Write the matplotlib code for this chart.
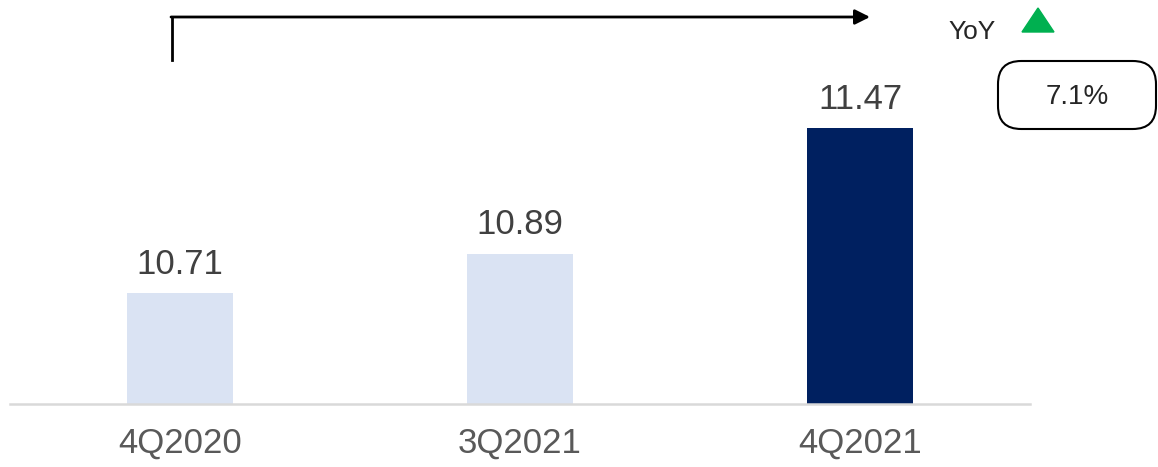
import matplotlib
matplotlib.use("Agg")
import matplotlib.pyplot as plt
from matplotlib.patches import FancyBboxPatch, Polygon

quarters = ["4Q2020", "3Q2021", "4Q2021"]
values = [10.71, 10.89, 11.47]
bar_colors = ["#dae3f3", "#dae3f3", "#002060"]
yoy_label = "7.1%"

W, H = 1158, 467
fig = plt.figure(figsize=(W / 100, H / 100), dpi=100)
ax = fig.add_axes([10 / W, (H - 404) / H, 1020 / W, 404 / H])

x = range(len(quarters))
ax.bar(x, values, width=0.312, color=bar_colors, zorder=2)
ax.set_xlim(-0.5, 2.5)
ax.set_ylim(10.199, 12.06)

for xi, v in zip(x, values):
    ax.annotate(f"{v:.2f}", (xi, v), xytext=(0, 9), textcoords="offset points",
                ha="center", va="bottom", fontsize=25, color="#404040",
                family=["Liberation Sans", "DejaVu Sans"])

for s in ("top", "right", "left"):
    ax.spines[s].set_visible(False)
ax.spines["bottom"].set_color("#d9d9d9")
ax.spines["bottom"].set_linewidth(1.8)
ax.set_yticks([])
ax.set_xticks(list(x))
ax.set_xticklabels(quarters, fontsize=25, color="#595959",
                   family=["Liberation Sans", "DejaVu Sans"])
ax.tick_params(axis="x", length=0, pad=16)

# growth arrow from first bar across to the YoY box
fig.add_artist(plt.Line2D([172, 172], [H - 60, H - 17], color="black", lw=2,
                          transform=None))
ax.annotate("", xy=(870, H - 17), xycoords="figure pixels",
            xytext=(171, H - 17), textcoords="figure pixels",
            arrowprops=dict(arrowstyle="-|>,head_length=0.9,head_width=0.45",
                            color="black", lw=2, shrinkA=0, shrinkB=0))

fig.text(948 / W, 1 - 32 / H, "YoY", fontsize=19, color="#262626",
         va="center", ha="left", family=["Liberation Sans", "DejaVu Sans"])
fig.add_artist(Polygon([[1022 / W, 1 - 32 / H], [1054 / W, 1 - 32 / H],
                        [1038 / W, 1 - 8 / H]], closed=True,
                       color="#00b050", transform=fig.transFigure))

box = FancyBboxPatch((998 / W, 1 - 129 / H), 158 / W, 68 / H,
                     boxstyle="round,pad=0,rounding_size=0.02",
                     transform=fig.transFigure, facecolor="white",
                     edgecolor="black", lw=1.5, mutation_aspect=W / H)
fig.add_artist(box)
fig.text(1077 / W, 1 - 97 / H, yoy_label, fontsize=20, color="#262626",
         ha="center", va="center", family=["Liberation Sans", "DejaVu Sans"])

fig.savefig("out.png", dpi=100)
